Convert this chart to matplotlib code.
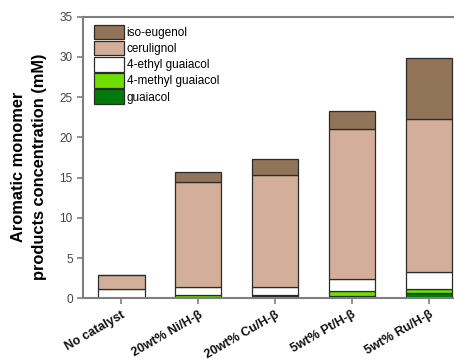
import numpy as np
import matplotlib
matplotlib.use("Agg")
import matplotlib.pyplot as plt

plt.rcParams['font.family'] = ['Liberation Sans', 'DejaVu Sans']

# ----------------- data -----------------
catalysts = ["No catalyst", "20wt% Ni/H-β", "20wt% Cu/H-β", "5wt% Pt/H-β", "5wt% Ru/H-β"]
guaiacol = [0.0, 0.10, 0.35, 0.30, 0.62]
methyl_guaiacol = [0.0, 0.35, 0.05, 0.65, 0.48]
ethyl_guaiacol = [1.10, 0.92, 1.05, 1.45, 2.20]
cerulignol = [1.83, 13.13, 13.85, 18.67, 19.00]
iso_eugenol = [0.0, 1.23, 1.97, 2.20, 7.50]

series = [
    ("guaiacol", guaiacol, "#007a0a"),
    ("4-methyl guaiacol", methyl_guaiacol, "#6ee000"),
    ("4-ethyl guaiacol", ethyl_guaiacol, "#ffffff"),
    ("cerulignol", cerulignol, "#d3af99"),
    ("iso-eugenol", iso_eugenol, "#927459"),
]

fig = plt.figure(figsize=(4.54, 3.59), dpi=100)
ax = fig.add_axes([0.183, 0.169, 0.846, 0.785])

x = np.arange(len(catalysts))
bottom = np.zeros(len(catalysts))
handles = []
for name, vals, col in series:
    vals = np.array(vals)
    b = ax.bar(x, vals, 0.6, bottom=bottom, color=col, edgecolor="#2b2b2b",
               linewidth=0.9, label=name)
    handles.append(b)
    bottom += vals

ax.set_xlim(-0.5, 4.5)
ax.set_ylim(0, 35)
ax.set_yticks(range(0, 36, 5))
ax.set_xticks(x)
ax.set_xticklabels(catalysts, rotation=30, ha="right", rotation_mode="anchor",
                   fontsize=9, fontweight="bold")
ax.tick_params(axis="y", labelsize=8.5, colors="#7f7f7f", labelcolor="#444444",
               length=4, width=1.2)
ax.tick_params(axis="x", colors="#7f7f7f", labelcolor="#111111", length=4, width=1.2)
for s in ax.spines.values():
    s.set_color("#7f7f7f")
    s.set_linewidth(1.5)

leg = ax.legend(handles[::-1], [h.get_label() for h in handles[::-1]],
                loc="upper left", frameon=False, fontsize=8.5,
                handlelength=2.6, handleheight=1.5, handletextpad=0.2,
                labelspacing=0.15, borderaxespad=0.3, bbox_to_anchor=(0.006, 1.0))

# two-line y label, both lines centred on the same height
fig.text(0.04, 0.535, "Aromatic monomer", rotation=90, fontsize=11.8,
         fontweight="bold", ha="center", va="center")
fig.text(0.088, 0.535, "products concentration (mM)", rotation=90, fontsize=11.8,
         fontweight="bold", ha="center", va="center")

fig.savefig("out.png", dpi=100)
